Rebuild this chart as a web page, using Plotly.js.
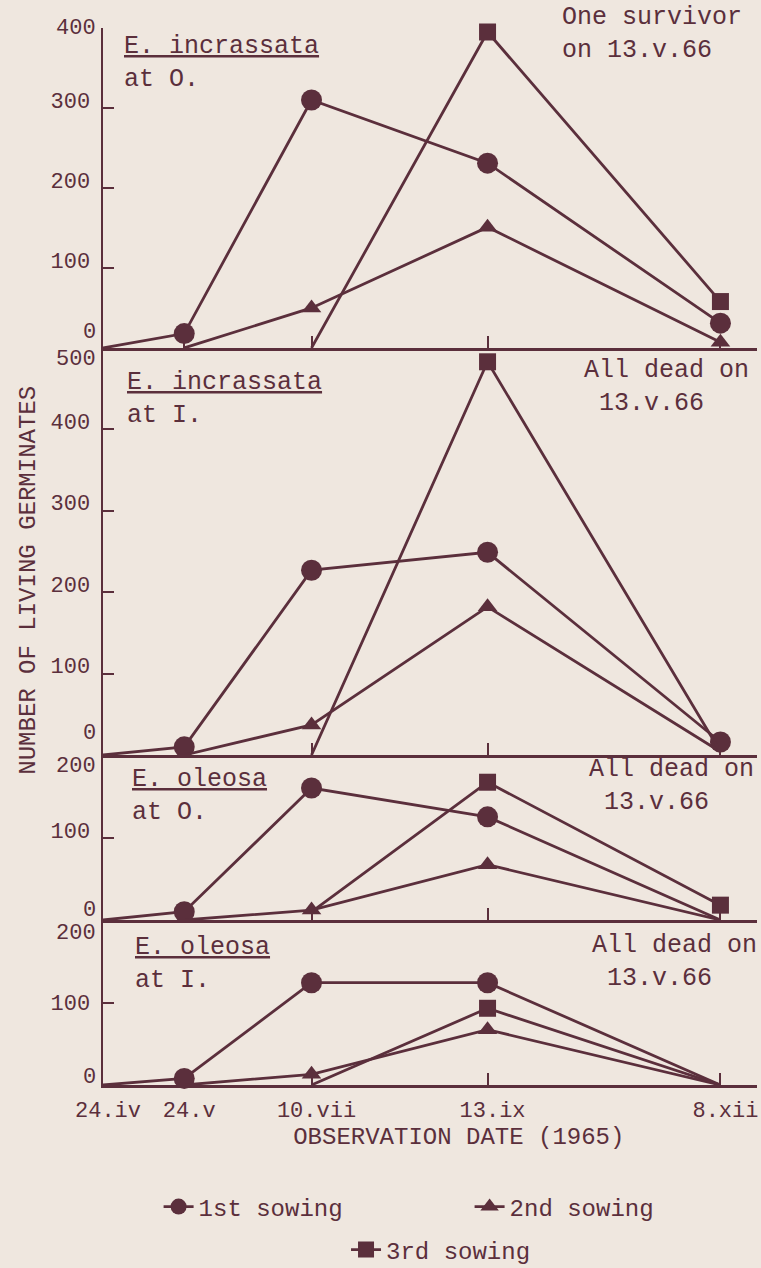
<!DOCTYPE html>
<html>
<head>
<meta charset="utf-8">
<script src="https://cdn.plot.ly/plotly-3.0.1.min.js"></script>
<style>
  html, body { margin: 0; padding: 0; background: #efe7df; }
  #chart { width: 761px; height: 1268px; }
</style>
</head>
<body>
<div id="chart"></div>
<script>
// ---- data ----
var dates = ['1965-04-24', '1965-05-24', '1965-07-10', '1965-09-13', '1965-12-08'];
var dateLabels = ['24.iv', '24.v', '10.vii', '13.ix', '8.xii'];
var seriesNames = ['1st sowing', '2nd sowing', '3rd sowing'];

// E. incrassata at O.
var incO_s1 = [0, 18, 310, 231, 31];
var incO_s2 = [null, 0, 50, 151, 7];
var incO_s3 = [null, null, 0, 395, 58];
// E. incrassata at I.
var incI_s1 = [0, 10, 227, 249, 16];
var incI_s2 = [null, 0, 37, 182, 4];
var incI_s3 = [null, null, 0, 483, 4];
// E. oleosa at O.
var oleO_s1 = [0, 10, 160, 125, 0];
var oleO_s2 = [null, 0, 12, 67, 0];
var oleO_s3 = [null, null, 10, 167, 18];
// E. oleosa at I.
var oleI_s1 = [0, 8, 124, 124, 0];
var oleI_s2 = [null, 0, 13, 67, 0];
var oleI_s3 = [null, null, 0, 93, 0];

var panelTitles = ['E. incrassata', 'E. incrassata', 'E. oleosa', 'E. oleosa'];
var panelSites = ['at O.', 'at I.', 'at O.', 'at I.'];
var panelNotes = [['One survivor', 'on 13.v.66'], ['All dead on', '13.v.66'], ['All dead on', '13.v.66'], ['All dead on', '13.v.66']];
var yTickVals = [[0, 100, 200, 300, 400], [0, 100, 200, 300, 400, 500], [0, 100, 200], [0, 100, 200]];
var yTitle = 'NUMBER OF LIVING GERMINATES';
var xTitle = 'OBSERVATION DATE (1965)';

// ---- style ----
var INK = '#5b2f3c';
var BG = '#efe7df';
var MONO = 'Liberation Mono, Cousine, Courier New, monospace';

var panels = [
  {s: [incO_s1, incO_s2, incO_s3], show: [[1,2,3,4],[2,3,4],[3,4]], range: [0, 400], domain: [0.6973, 1], shift: -8},
  {s: [incI_s1, incI_s2, incI_s3], show: [[1,2,3,4],[2,3],[3]], range: [0, 500], domain: [0.3122, 0.6973], shift: -8},
  {s: [oleO_s1, oleO_s2, oleO_s3], show: [[1,2,3],[2,3],[3,4]], range: [0, 200], domain: [0.1561, 0.3122], shift: -7},
  {s: [oleI_s1, oleI_s2, oleI_s3], show: [[1,2,3],[2,3],[3]], range: [0, 200], domain: [0, 0.1561], shift: 0}
];
var symbols = ['circle', 'triangle-up', 'square'];
var sizes = [21, 17, 17];

var traces = [];
panels.forEach(function (p, pi) {
  var xa = pi === 0 ? 'x' : 'x' + (pi + 1);
  var ya = pi === 0 ? 'y' : 'y' + (pi + 1);
  p.s.forEach(function (vals, si) {
    traces.push({
      type: 'scatter', mode: 'lines+markers',
      x: dates, y: vals, xaxis: xa, yaxis: ya,
      name: seriesNames[si],
      showlegend: pi === 0,
      legend: si === 2 ? 'legend2' : 'legend',
      cliponaxis: false,
      connectgaps: false,
      line: {color: INK, width: 2.8},
      marker: {symbol: symbols[si], size: sizes[si], color: INK, line: {width: 0}},
      selectedpoints: p.show[si],
      selected: {marker: {opacity: 1}},
      unselected: {marker: {opacity: 0}},
      hoverinfo: 'skip'
    });
  });
});

var layout = {
  width: 761, height: 1268,
  margin: {l: 103, r: 4, t: 28, b: 183, autoexpand: false},
  paper_bgcolor: BG, plot_bgcolor: BG,
  font: {family: MONO, color: INK, size: 22},
  showlegend: true,
  legend: {
    orientation: 'h', x: 0.085, y: -0.1154, xanchor: 'left', yanchor: 'middle',
    entrywidth: 266, entrywidthmode: 'pixels',
    font: {family: MONO, size: 24, color: INK}, bgcolor: 'rgba(0,0,0,0)'
  },
  legend2: {
    orientation: 'h', x: 0.3716, y: -0.1561, xanchor: 'left', yanchor: 'middle',
    font: {family: MONO, size: 24, color: INK}, bgcolor: 'rgba(0,0,0,0)'
  },
  annotations: []
};

var bottomShifts = [15, 22, 10, 8];
var topShifts = [0, -12, -11, -13];
var titleShifts = [-2, -18, -8, -11];
var titleX = [0.029, 0.034, 0.041, 0.046];
var noteShifts = [27, -6, 2, -9];
var noteX = [0.699, 0.732, 0.740, 0.745];

panels.forEach(function (p, pi) {
  var sfx = pi === 0 ? '' : String(pi + 1);
  var tv = yTickVals[pi];
  var tt = tv.map(function (v, i) { return (i === 0 || i === tv.length - 1) ? '' : String(v); });
  layout['xaxis' + sfx] = {
    domain: [0, 1], anchor: 'y' + sfx, matches: pi === 0 ? undefined : 'x',
    type: 'date', range: ['1965-04-24', '1965-12-21 12:00'],
    showline: true, linewidth: 3, linecolor: INK, mirror: false,
    showgrid: false, zeroline: false,
    ticks: 'inside', ticklen: 12, tickwidth: 2, tickcolor: INK,
    tickmode: 'array', tickvals: dates, ticktext: dateLabels,
    showticklabels: pi === 3,
    ticklabelstandoff: 3, ticklabelshift: 5,
    tickfont: {family: MONO, size: 22, color: INK}
  };
  layout['yaxis' + sfx] = {
    domain: p.domain, anchor: 'x' + sfx, range: p.range, fixedrange: true,
    showline: true, linewidth: 2.5, linecolor: INK,
    showgrid: false, zeroline: false,
    ticks: 'inside', ticklen: 11, tickwidth: 2, tickcolor: INK,
    tickmode: 'array', tickvals: tv, ticktext: tt,
    ticklabelshift: p.shift, ticklabelstandoff: 6,
    tickfont: {family: MONO, size: 22, color: INK}
  };
  // boundary tick labels placed by hand to avoid overlaps
  layout.annotations.push({
    xref: 'paper', yref: 'y' + sfx, x: 0, y: tv[0], xanchor: 'right', yanchor: 'middle',
    xshift: -6, yshift: bottomShifts[pi], showarrow: false, text: String(tv[0]), borderpad: 0,
    font: {family: MONO, size: 22, color: INK}
  });
  layout.annotations.push({
    xref: 'paper', yref: 'y' + sfx, x: 0, y: tv[tv.length - 1], xanchor: 'right', yanchor: 'middle',
    xshift: -6, yshift: topShifts[pi], showarrow: false, text: String(tv[tv.length - 1]), borderpad: 0,
    font: {family: MONO, size: 22, color: INK}
  });
  // panel title
  layout.annotations.push({
    xref: 'paper', yref: 'y' + sfx + ' domain', x: titleX[pi], y: 1, xanchor: 'left', yanchor: 'top',
    yshift: titleShifts[pi], showarrow: false, align: 'left',
    text: '<u>' + panelTitles[pi] + '</u><br>' + panelSites[pi],
    font: {family: MONO, size: 25, color: INK}
  });
  // right note
  var n = panelNotes[pi];
  layout.annotations.push({
    xref: 'paper', yref: 'y' + sfx + ' domain', x: noteX[pi], y: 1, xanchor: 'left', yanchor: 'top',
    yshift: noteShifts[pi], showarrow: false, align: 'left',
    text: n[0] + '<br>' + (pi === 0 ? '' : '&nbsp;') + n[1],
    font: {family: MONO, size: 25, color: INK}
  });
});

layout.xaxis4.title = {text: '&nbsp;&nbsp;&nbsp;&nbsp;' + xTitle, standoff: 4, font: {family: MONO, size: 24, color: INK}};
layout.yaxis2.title = {text: yTitle + '&nbsp;&nbsp;&nbsp;&nbsp;', standoff: 8, font: {family: MONO, size: 24, color: INK}};

Plotly.newPlot('chart', traces, layout, {staticPlot: true, displayModeBar: false});
</script>
</body>
</html>
